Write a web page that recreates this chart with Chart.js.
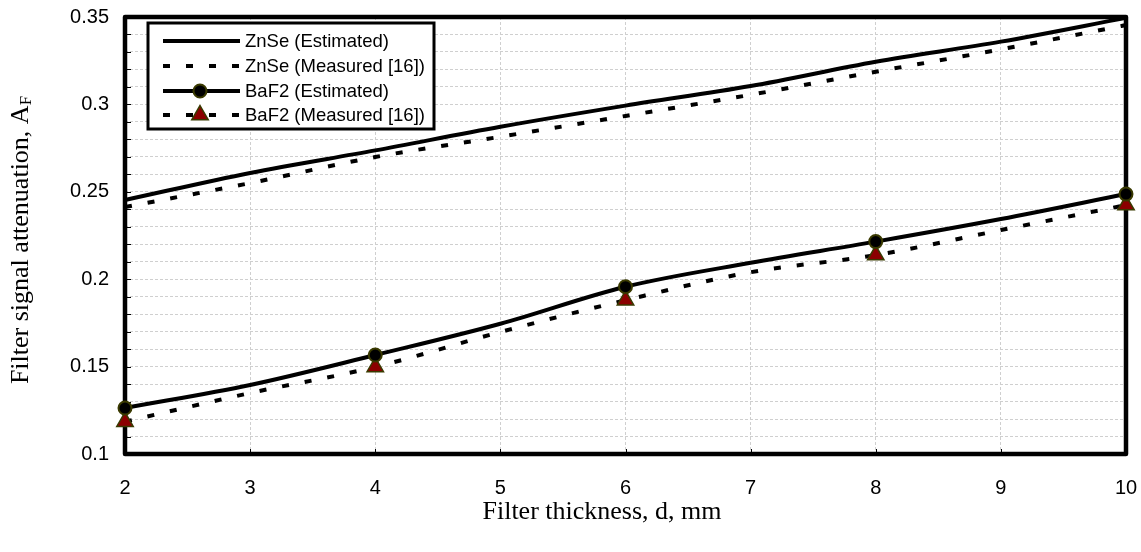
<!DOCTYPE html>
<html>
<head>
<meta charset="utf-8">
<script src="https://cdn.jsdelivr.net/npm/chart.js@4/dist/chart.umd.min.js"></script>
<style>
  html, body { margin: 0; padding: 0; background: #fff; }
  #wrap { width: 1141px; height: 552px; }
</style>
</head>
<body>
<div id="wrap"><canvas id="c" width="1141" height="552"></canvas></div>
<script>
// ---- data ----
const thickness = [2, 3, 4, 5, 6, 7, 8, 9, 10];
const znseEstimated = [0.2453, 0.2608, 0.2737, 0.2872, 0.2993, 0.3105, 0.3244, 0.3359, 0.3495];
const znseMeasured = [0.2413, 0.2550, 0.2699, 0.2815, 0.2934, 0.3055, 0.3187, 0.3315, 0.3454];
const baf2Estimated = [0.1263, 0.1395, 0.1566, 0.1745, 0.1957, 0.2094, 0.2215, 0.2344, 0.2487];
const baf2Measured = [0.1185, 0.1349, 0.1498, 0.1698, 0.1880, 0.2040, 0.2138, 0.2281, 0.2424];
const seriesLabels = ['ZnSe (Estimated)', 'ZnSe (Measured [16])', 'BaF2 (Estimated)', 'BaF2 (Measured [16])'];
const markerThickness = [2, 4, 6, 8, 10];
const yMin = 0.1, yMax = 0.35, yStep = 0.01, yLabelStep = 0.05;
const xMin = 2, xMax = 10, xStep = 1;
const xTitle = 'Filter thickness, d, mm';
const yTitleMain = 'Filter signal attenuation, A';
const yTitleSub = 'F';

const pts = arr => thickness.map((x, i) => ({ x: x, y: arr[i] }));
const markerRadius = r => thickness.map(x => markerThickness.includes(x) ? r : 0);

const SOLID_W = 4, DASH_W = 4, DASH = [7, 16];

const datasets = [
  { label: seriesLabels[0], data: pts(znseEstimated), borderColor: '#000', borderWidth: SOLID_W,
    pointRadius: 0, cubicInterpolationMode: 'monotone', clip: false },
  { label: seriesLabels[1], data: pts(znseMeasured), borderColor: '#000', borderWidth: DASH_W,
    borderDash: DASH, pointRadius: 0, cubicInterpolationMode: 'monotone', clip: false },
  { label: seriesLabels[2], data: pts(baf2Estimated), borderColor: '#000', borderWidth: SOLID_W,
    pointRadius: markerRadius(6.5), pointStyle: 'circle', pointBackgroundColor: '#000',
    pointBorderColor: '#3a3a00', pointBorderWidth: 2, cubicInterpolationMode: 'monotone', clip: false },
  { label: seriesLabels[3], data: pts(baf2Measured), borderColor: '#000', borderWidth: DASH_W,
    borderDash: DASH, pointRadius: markerRadius(9.5), pointStyle: 'triangle', pointBackgroundColor: '#8b0000',
    pointBorderColor: '#3a3a00', pointBorderWidth: 1.5, cubicInterpolationMode: 'monotone', clip: false }
];

const decorPlugin = {
  id: 'decor',
  beforeDatasetsDraw(chart) {
    const ctx = chart.ctx;
    const a = chart.chartArea;
    const xs = chart.scales.x, ys = chart.scales.y;
    ctx.save();
    ctx.strokeStyle = '#000';
    ctx.lineWidth = 1;
    for (let v = yMin; v <= yMax + 1e-9; v += yStep) {
      const y = Math.round(ys.getPixelForValue(v)) + 0.5;
      ctx.beginPath(); ctx.moveTo(a.left, y); ctx.lineTo(a.left + 6, y); ctx.stroke();
    }
    for (let v = xMin; v <= xMax; v += xStep) {
      const x = Math.round(xs.getPixelForValue(v)) + 0.5;
      ctx.beginPath(); ctx.moveTo(x, a.bottom); ctx.lineTo(x, a.bottom - 5); ctx.stroke();
    }
    ctx.lineWidth = 4.5;
    ctx.lineJoin = 'round';
    ctx.strokeRect(a.left, a.top, a.right - a.left, a.bottom - a.top);
    ctx.restore();
  },
  afterDraw(chart) {
    const ctx = chart.ctx;
    const a = chart.chartArea;
    ctx.save();
    // legend
    const lx = 148, ly = 23, lw = 286, lh = 106;
    ctx.fillStyle = '#fff';
    ctx.fillRect(lx, ly, lw, lh);
    ctx.lineWidth = 3;
    ctx.strokeStyle = '#000';
    ctx.strokeRect(lx, ly, lw, lh);
    const rowY = [41, 66, 91, 115];
    ctx.font = '18.5px "Liberation Sans", Arial, sans-serif';
    ctx.textBaseline = 'middle';
    ctx.textAlign = 'left';
    chart.data.datasets.forEach((ds, i) => {
      const y = rowY[i];
      ctx.save();
      ctx.strokeStyle = ds.borderColor;
      ctx.lineWidth = ds.borderWidth;
      ctx.setLineDash(ds.borderDash || []);
      ctx.beginPath(); ctx.moveTo(163, y); ctx.lineTo(240, y); ctx.stroke();
      ctx.restore();
      if (ds.pointStyle) {
        const r = ds.pointStyle === 'triangle' ? 9.5 : 6.5;
        ctx.save();
        ctx.fillStyle = ds.pointBackgroundColor;
        ctx.strokeStyle = ds.pointBorderColor;
        ctx.lineWidth = ds.pointBorderWidth;
        Chart.helpers.drawPoint(ctx, { pointStyle: ds.pointStyle, radius: r, borderWidth: ds.pointBorderWidth }, 200, y);
        ctx.restore();
      }
      ctx.fillStyle = '#000';
      ctx.fillText(ds.label, 245, y + 1);
    });

    // axis titles
    ctx.fillStyle = '#000';
    const mainFont = '26px "Liberation Serif", "Times New Roman", serif';
    const subFont = '17px "Liberation Serif", "Times New Roman", serif';
    ctx.font = mainFont;
    ctx.textAlign = 'center';
    ctx.textBaseline = 'middle';
    ctx.fillText(xTitle, 602, 512);

    ctx.save();
    ctx.translate(21, 240);
    ctx.rotate(-Math.PI / 2);
    ctx.textAlign = 'left';
    ctx.font = mainFont;
    const w1 = ctx.measureText(yTitleMain).width;
    ctx.font = subFont;
    const w2 = ctx.measureText(yTitleSub).width;
    const start = -(w1 + w2) / 2;
    ctx.font = mainFont;
    ctx.fillText(yTitleMain, start, 0);
    ctx.font = subFont;
    ctx.fillText(yTitleSub, start + w1, 6);
    ctx.restore();
    ctx.restore();
  }
};

new Chart(document.getElementById('c'), {
  type: 'line',
  data: { datasets },
  options: {
    responsive: false,
    devicePixelRatio: 1,
    animation: false,
    layout: { padding: { top: 17, right: 15, left: 0, bottom: 0 } },
    plugins: { legend: { display: false }, tooltip: { enabled: false } },
    scales: {
      x: {
        type: 'linear', min: xMin, max: xMax,
        ticks: { stepSize: xStep, color: '#000', padding: 22,
                 font: { family: '"Liberation Sans", Arial, sans-serif', size: 20 } },
        grid: { color: '#cfcfcf', lineWidth: 1, drawTicks: false },
        border: { display: false, dash: [3, 2] },
        afterFit: s => { s.height = 98; s.paddingLeft = 0; s.paddingRight = 0; }
      },
      y: {
        type: 'linear', min: yMin, max: yMax,
        ticks: { stepSize: yStep, autoSkip: false, maxTicksLimit: 100, color: '#000', padding: 16,
                 font: { family: '"Liberation Sans", Arial, sans-serif', size: 20 },
                 callback: v => (Math.round(v * 100) % Math.round(yLabelStep * 100) === 0)
                   ? String(parseFloat(v.toFixed(2))) : '' },
        grid: { color: '#cfcfcf', lineWidth: 1, drawTicks: false },
        border: { display: false, dash: [3, 2] },
        afterFit: s => { s.width = 125; s.paddingTop = 0; s.paddingBottom = 0; }
      }
    }
  },
  plugins: [decorPlugin]
});
</script>
</body>
</html>
